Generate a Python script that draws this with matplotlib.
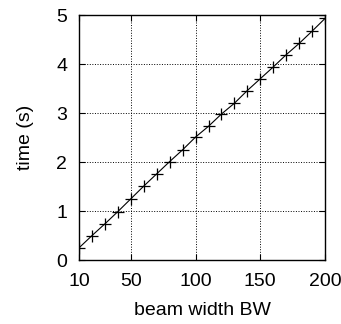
import matplotlib
matplotlib.use("Agg")
import matplotlib.pyplot as plt

plt.rcParams['font.family'] = ['Liberation Sans', 'DejaVu Sans']

# data
beam_width = [10, 20, 30, 40, 50, 60, 70, 80, 90, 100,
              110, 120, 130, 140, 150, 160, 170, 180, 190, 200]
time_s = [0.25, 0.50, 0.74, 0.99, 1.25, 1.51, 1.76, 2.01, 2.25, 2.51,
          2.73, 2.98, 3.20, 3.46, 3.70, 3.94, 4.19, 4.42, 4.67, 4.93]
x_ticks = [10, 50, 100, 150, 200]
y_ticks = [0, 1, 2, 3, 4, 5]

fig = plt.figure(figsize=(3.41, 3.24), dpi=100)
ax = fig.add_axes([0.232, 0.1975, 0.721, 0.756])

ax.plot(beam_width, time_s, color='black', linewidth=0.8,
        marker='+', markersize=8, markeredgewidth=0.9)

ax.set_xlim(10, 200)
ax.set_ylim(0, 5)
ax.set_xticks(x_ticks)
ax.set_yticks(y_ticks)
ax.tick_params(direction='in', length=4, width=0.8, labelsize=14,
               top=True, right=True)
ax.tick_params(axis='x', pad=9)
ax.tick_params(axis='y', pad=8.5)
ax.grid(True, linestyle=':', color='black', linewidth=0.7)
for s in ax.spines.values():
    s.set_linewidth(1.0)

ax.set_xlabel("beam width BW", fontsize=14, labelpad=9)
ax.set_ylabel("time (s)", fontsize=14, labelpad=16)

fig.savefig("out.png", dpi=100)
